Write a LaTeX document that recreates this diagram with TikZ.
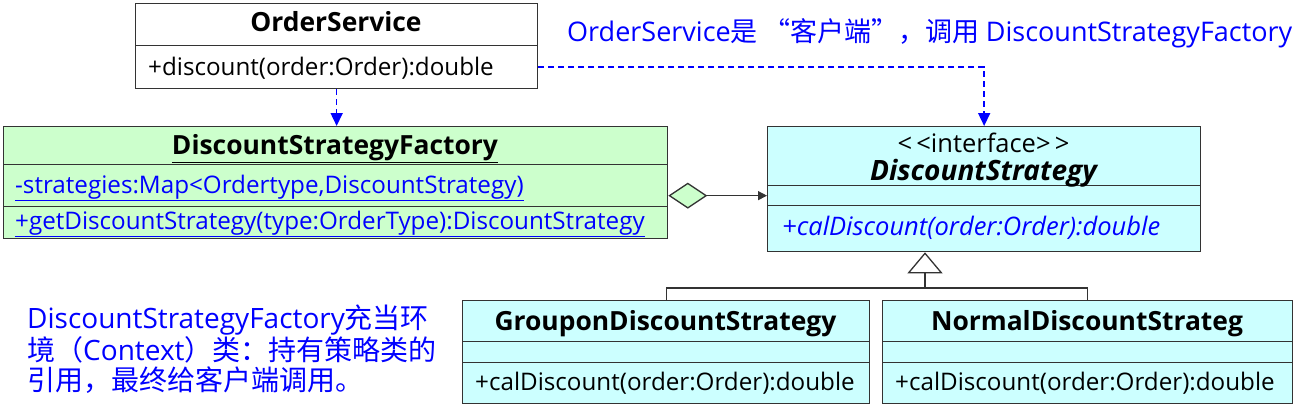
\documentclass[tikz,border=0pt]{standalone}
\usepackage{fontspec}
\setmainfont{Open Sans}
\newfontfamily\cjk{Noto Sans CJK SC}
\usetikzlibrary{arrows.meta}
\definecolor{gfill}{HTML}{CCFFCC}
\definecolor{cfill}{HTML}{CCFFFF}
\definecolor{ublue}{HTML}{0000FF}
\definecolor{lcol}{HTML}{333333}
\newcommand\bxfont{\fontsize{24.2}{28}\selectfont}
\newcommand\btfont{\fontsize{26.4}{30}\selectfont\bfseries}
\newcommand\anfont{\fontsize{27}{30}\selectfont}
\begin{document}
\begin{tikzpicture}[x=1pt,y=-1pt,
  comp/.style={draw=lcol, line width=1.3pt, anchor=north west, inner sep=0pt},
  ttext/.style={anchor=base, inner sep=0pt, font=\btfont},
  mtext/.style={anchor=base west, inner sep=0pt, font=\bxfont},
  atext/.style={anchor=base west, inner sep=0pt, font=\anfont, text=ublue},
  dep/.style={draw=ublue, line width=1.6pt, dash pattern=on 6pt off 4pt, -{Triangle[length=13pt,width=12pt]}},
  conn/.style={draw=lcol, line width=1.3pt}
]
\useasboundingbox (0,0) rectangle (1299,412);
% OrderService
\node[comp, fill=white, minimum width=402pt, minimum height=42pt] (osT) at (135,3) {};
\node[comp, fill=white, minimum width=402pt, minimum height=43pt] (osM) at (135,45) {};
\node[ttext] (osTt) at (336,32) {OrderService};
\node[mtext] (osMt) at (148,75) {+discount(order:Order):double};
% Factory
\node[comp, fill=gfill, minimum width=664pt, minimum height=38pt] (facT) at (3,126) {};
\node[comp, fill=gfill, minimum width=664pt, minimum height=42pt] (facA) at (3,164) {};
\node[comp, fill=gfill, minimum width=664pt, minimum height=32pt] (facM) at (3,206) {};
\node[ttext] (facTt) at (335,154) {\underline{DiscountStrategyFactory}};
\node[mtext, text=ublue] (facAt) at (15,193) {\underline{-strategies:Map<Ordertype,DiscountStrategy)}};
\node[mtext, text=ublue] (facMt) at (15,229) {\underline{+getDiscountStrategy(type:OrderType):DiscountStrategy}};
% Interface
\node[comp, fill=cfill, minimum width=433pt, minimum height=59pt] (dsT) at (767,126) {};
\node[comp, fill=cfill, minimum width=433pt, minimum height=20pt] (dsA) at (767,185) {};
\node[comp, fill=cfill, minimum width=433pt, minimum height=46pt] (dsM) at (767,205) {};
\node[anchor=base, inner sep=0pt, font=\fontsize{25.5}{28}\selectfont] (dsSt) at (983.5,152) {<\,<interface>\,>};
\node[ttext, font=\fontsize{28}{30}\selectfont\bfseries\itshape] (dsTt) at (983.5,180) {DiscountStrategy};
\node[mtext, text=ublue, font=\fontsize{25.5}{28}\selectfont\itshape] (dsMt) at (782,235) {+calDiscount(order:Order):double};
% Groupon
\node[comp, fill=cfill, minimum width=407pt, minimum height=41pt] (gT) at (462,300) {};
\node[comp, fill=cfill, minimum width=407pt, minimum height=21pt] (gA) at (462,341) {};
\node[comp, fill=cfill, minimum width=407pt, minimum height=41pt] (gM) at (462,362) {};
\node[ttext] (gTt) at (665.5,330) {GrouponDiscountStrategy};
\node[mtext] (gMt) at (475,390) {+calDiscount(order:Order):double};
% Normal
\node[comp, fill=cfill, minimum width=410pt, minimum height=41pt] (nT) at (882,300) {};
\node[comp, fill=cfill, minimum width=410pt, minimum height=21pt] (nA) at (882,341) {};
\node[comp, fill=cfill, minimum width=410pt, minimum height=41pt] (nM) at (882,362) {};
\node[ttext] (nTt) at (1087,330) {NormalDiscountStrateg};
\node[mtext] (nMt) at (895,390) {+calDiscount(order:Order):double};
% connectors
\draw[dep] (osM.south) -- (osM.south |- facT.north);
\draw[dep] (osM.east) -| (dsT.north);
\draw[conn, {Diamond[length=39pt,width=26pt,fill=gfill]}-{Triangle[length=9pt,width=9pt]}] (dsA.west -| facA.east) -- (dsA.west);
\coordinate (j) at (925,288);
\draw[conn] (gT.north) |- (j) -| (nT.north);
\draw[conn, -{Triangle[open,length=21pt,width=35pt]}] (j) -- (j |- dsM.south);
% annotations
\node[atext] (an1) at (567,42) {OrderService{\cjk 是 “客户端”，调用 }DiscountStrategyFactory};
\node[atext, align=left, anchor=north west, font=\fontsize{28}{29.5}\selectfont] (an2) at (27,305) {DiscountStrategyFactory{\cjk 充当环}\\{\cjk 境（}Context{\cjk ）类：持有策略类的}\\{\cjk 引用，最终给客户端调用。}};
\end{tikzpicture}
\end{document}
